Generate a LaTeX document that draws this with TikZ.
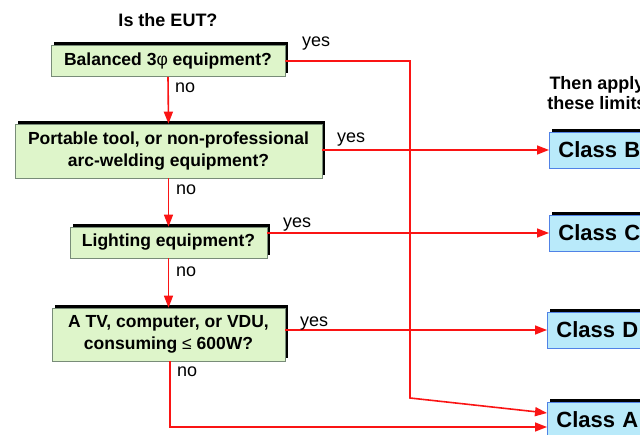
\documentclass[tikz,border=0pt]{standalone}
\usepackage{fontspec}
\setmainfont{Liberation Sans}
\usetikzlibrary{shadows,arrows.meta,calc}
\definecolor{qfill}{RGB}{222,245,202}
\definecolor{qdraw}{RGB}{120,140,120}
\definecolor{cfill}{RGB}{185,234,250}
\definecolor{cdraw}{RGB}{80,130,230}
\definecolor{lred}{RGB}{250,20,20}
\tikzset{
  qbox/.style={draw=qdraw, line width=0.7pt, fill=qfill, align=center,
    font=\fontsize{17.5}{21.5}\selectfont\bfseries, inner sep=2pt,
    drop shadow={shadow xshift=3pt, shadow yshift=3pt, fill=black, opacity=1}},
  cbox/.style={draw=cdraw, line width=0.8pt, fill=cfill, anchor=west,
    minimum width=130pt, minimum height=36pt, text width=112pt, align=left,
    inner xsep=9pt, font=\fontsize{22}{26}\selectfont\bfseries,
    drop shadow={shadow xshift=3pt, shadow yshift=3pt, fill=black, opacity=1}},
  conn/.style={draw=lred, line width=1.6pt, -{Triangle[length=12pt,width=9pt]}},
  lab/.style={anchor=base west, inner sep=0pt, font=\fontsize{18}{21}\selectfont},
  head/.style={font=\fontsize{18}{20}\selectfont\bfseries, align=center}
}
\begin{document}
\begin{tikzpicture}[x=1pt,y=-1pt]
\useasboundingbox (0,0) rectangle (640,435);
\clip (0,0) rectangle (640,435);
\node[head] (title) at (168,20) {Is the EUT?};
\node[head] (then) at (597,93) {Then apply\\these limits};

\node[qbox, minimum width=234pt, minimum height=31pt] (b1) at (168,61)
  {Balanced 3{\mdseries φ} equipment?};
\node[qbox, minimum width=307pt, minimum height=54pt] (b2) at (168.5,151)
  {Portable tool, or non-professional\\arc-welding equipment?};
\node[qbox, minimum width=197pt, minimum height=31pt] (b3) at (168.5,242.5)
  {Lighting equipment?};
\node[qbox, minimum width=233pt, minimum height=53pt] (b4) at (168.5,334.5)
  {A TV, computer, or VDU,\\consuming {\mdseries ≤} 600W?};

\node[cbox] (B) at (549,150) {Class B};
\node[cbox] (C) at (549,233) {Class C};
\node[cbox] (D) at (547,330) {Class D};
\node[cbox] (A) at (547,420) {Class A};

\coordinate (a1) at ($(A.west)+(0,-7)$);
\coordinate (a2) at ($(A.west)+(0,7)$);
\coordinate (k2) at (410,398);
\coordinate (k1) at (k2 |- b1.east);
\coordinate (k3) at (170,427);

\draw[conn] (b1.south) -- (b2.north);
\draw[conn] (b2.south) -- (b3.north);
\draw[conn] (b3.south) -- (b4.north);
\draw[conn] (b1.east) -- (k1) -- (k2) -- (a1);
\draw[conn] (b2.east |- B.west) -- (B.west);
\draw[conn] (b3.east |- C.west) -- (C.west);
\draw[conn] (b4.east |- D.west) -- (D.west);
\draw[conn] (b4.south -| k3) -- (k3) -- (a2);

\node[lab] (y1) at (302,47) {yes};
\node[lab] (n1) at (175,93) {no};
\node[lab] (y2) at (337,143) {yes};
\node[lab] (n2) at (176,195) {no};
\node[lab] (y3) at (283,228) {yes};
\node[lab] (n3) at (176,277) {no};
\node[lab] (y4) at (300,327) {yes};
\node[lab] (n4) at (177,377) {no};
\end{tikzpicture}
\end{document}
